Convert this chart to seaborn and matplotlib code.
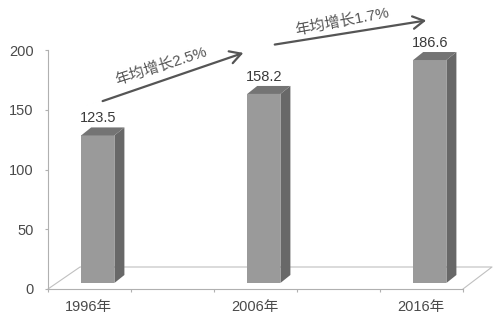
import numpy as np
import pandas as pd
import matplotlib
matplotlib.use("Agg")
import matplotlib.pyplot as plt
import seaborn as sns
from matplotlib.patches import Polygon, FancyArrowPatch
from matplotlib.transforms import ScaledTranslation, IdentityTransform
from matplotlib.lines import Line2D

# ---- data ----
years = ["1996年", "2006年", "2016年"]
values = [123.5, 158.2, 186.6]
value_labels = ["123.5", "158.2", "186.6"]
growth_labels = ["年均增长2.5%", "年均增长1.7%"]
yticks = [0, 50, 100, 150, 200]

sns.set_theme(style="white")
plt.rcParams['font.family'] = ['Liberation Sans', 'Noto Sans CJK SC', 'DejaVu Sans']

fig = plt.figure(figsize=(5.0, 3.21), dpi=100)
ax = fig.add_axes([0.096, 0.0997, 0.83, 0.7445])

df = pd.DataFrame({"year": years, "value": values})
sns.barplot(data=df, x="year", y="value", ax=ax, color="#9a9a9a",
            width=0.2, saturation=1, edgecolor="none")

ax.set_xlim(-0.3, 2.2)
ax.set_ylim(0, 200)
ax.set_yticks(yticks)
ax.set_yticklabels([str(t) for t in yticks])
ax.set_xlabel("")
ax.set_ylabel("")
for s in ["top", "right"]:
    ax.spines[s].set_visible(False)
for s in ["left", "bottom"]:
    ax.spines[s].set_color("#b0b0b0")
    ax.spines[s].set_linewidth(0.8)

ax.tick_params(axis="y", which="major", left=True, length=2.5, width=0.8,
               color="#b0b0b0", labelsize=10.5, labelcolor="#4a4a4a", pad=8)
ax.set_xticks([0, 1, 2])
ax.set_xticklabels(years)
ax.tick_params(axis="x", which="major", bottom=True, length=0, labelsize=10.5,
               labelcolor="#4a4a4a", pad=8)
ax.set_xticks(np.arange(-0.3, 2.25, 0.5), minor=True)
ax.tick_params(axis="x", which="minor", bottom=True, length=2.5, width=0.8,
               color="#b0b0b0")
for lab in ax.get_xticklabels():
    lab.set_transform(lab.get_transform() + ScaledTranslation(-9/100, 0, fig.dpi_scale_trans))

# floor parallelogram (3D look)
floor = Line2D([1, 1 + 29/415, 32/415, 0], [0, 22/239, 22/239, 0],
               transform=ax.transAxes, color="#c0c0c0", lw=0.8, clip_on=False,
               zorder=0.5)
ax.add_line(floor)

# shift bars up and add 3D faces
shift = ScaledTranslation(0, 6/100, fig.dpi_scale_trans)
dx, dy = 10, 8
fig.canvas.draw()
bars = list(ax.patches)
for p, lab in zip(bars, value_labels):
    p.set_transform(ax.transData + shift)
    p.set_zorder(2)
    x0, w, h = p.get_x(), p.get_width(), p.get_height()
    pts = (ax.transData + shift).transform([[x0, 0], [x0 + w, h]])
    (xl, yb), (xr, yt) = pts
    side = Polygon([[xr, yb], [xr, yt], [xr + dx, yt + dy], [xr + dx, yb + dy]],
                   closed=True, transform=IdentityTransform(), facecolor="#686868",
                   edgecolor="none", zorder=3)
    top = Polygon([[xl, yt], [xr, yt], [xr + dx, yt + dy], [xl + dx, yt + dy]],
                  closed=True, transform=IdentityTransform(), facecolor="#747474",
                  edgecolor="none", zorder=3)
    fig.add_artist(side)
    fig.add_artist(top)
    ax.annotate(lab, xy=(x0 + w / 2, h), xytext=(0, 23), textcoords="offset pixels",
                ha="center", va="center", fontsize=10.5, color="#3a3a3a")

# growth arrows
W, H = 500, 321
def fp(x, y):
    return (x / W, 1 - y / H)

arrows = [((100, 102), (246, 52), (161, 66), 18), ((272, 45), (429, 20), (342, 22), 11)]
for (s, e, tc, ang), txt in zip(arrows, growth_labels):
    fig.add_artist(FancyArrowPatch(
        fp(*s), fp(*e), transform=fig.transFigure,
        arrowstyle="->,head_length=8,head_width=4.5",
        color="#555555", lw=1.6, mutation_scale=1))
    fig.text(*fp(*tc), txt, rotation=ang, ha="center", va="center", fontsize=11,
             color="#555555", rotation_mode="anchor")

fig.savefig("out.png", dpi=100, facecolor="white")
